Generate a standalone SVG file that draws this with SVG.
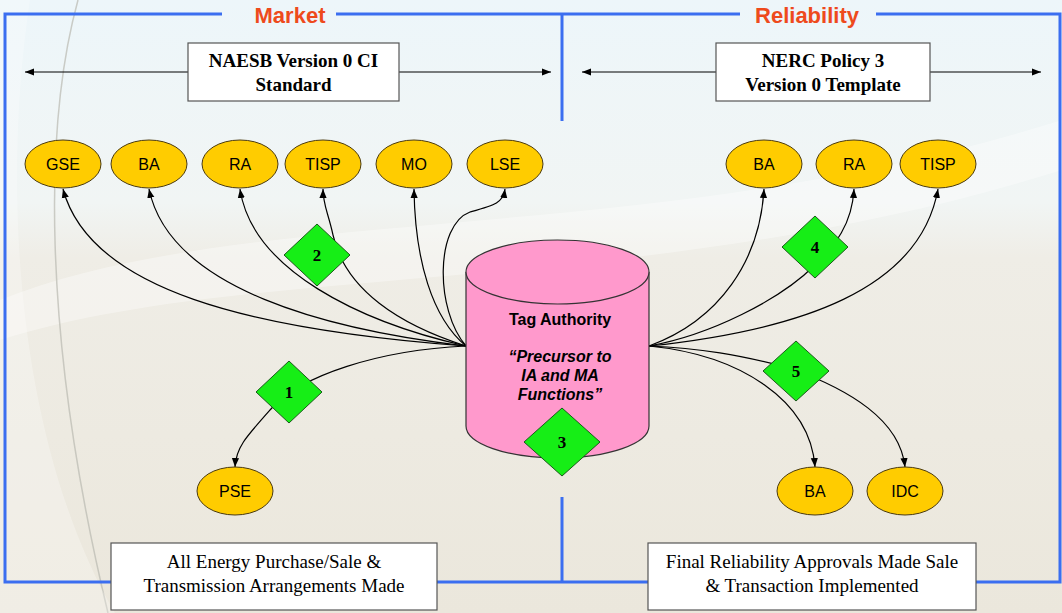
<svg xmlns="http://www.w3.org/2000/svg" width="1062" height="613" viewBox="0 0 1062 613">
<defs>
<linearGradient id="bg" x1="0" y1="0" x2="0" y2="1">
<stop offset="0" stop-color="#edf6fa"/>
<stop offset="0.33" stop-color="#f1f5f4"/>
<stop offset="0.42" stop-color="#efede6"/>
<stop offset="1" stop-color="#ebe7dc"/>
</linearGradient>
<marker id="ah" viewBox="0 0 10 10" refX="10" refY="5" markerWidth="9" markerHeight="9" markerUnits="userSpaceOnUse" orient="auto-start-reverse">
<path d="M0,1 L10,5 L0,9 z" fill="#000"/>
</marker>
<style>
.frame{stroke:#3b6ef0;stroke-width:3;fill:none}
.sec{font-family:"Liberation Sans",Arial,sans-serif;font-weight:bold;font-size:22px;fill:#ee4a1c;text-anchor:middle}
.box{fill:#fff;stroke:#555;stroke-width:1.2}
.std{font-family:"Liberation Serif","Times New Roman",serif;font-weight:bold;font-size:19px;fill:#000;text-anchor:middle}
.note{font-family:"Liberation Serif","Times New Roman",serif;font-size:19px;fill:#000;text-anchor:middle}
.ent{fill:#ffcc00;stroke:#4a3a10;stroke-width:1}
.lbl{font-family:"Liberation Sans",Arial,sans-serif;font-size:16px;fill:#000;text-anchor:middle}
.dia{fill:#16ee16;stroke:#1b5a1b;stroke-width:1}
.num{font-family:"Liberation Serif","Times New Roman",serif;font-weight:bold;font-size:17px;fill:#000;text-anchor:middle}
.conn{fill:none;stroke:#000;stroke-width:1.2;marker-end:url(#ah)}
.hl{fill:none;stroke:#000;stroke-width:1.2;marker-start:url(#ah);marker-end:url(#ah)}
.cyl{fill:#ff99cc;stroke:#333;stroke-width:1.2}
.tag{font-family:"Liberation Sans",Arial,sans-serif;font-weight:bold;font-size:16px;fill:#000;text-anchor:middle}
</style>
</defs>
<g id="background">
<rect x="0" y="0" width="1062" height="613" fill="url(#bg)"/>
<path d="M0,300 C250,200 650,250 1062,120 L1062,170 C650,300 250,260 0,340 z" fill="#ffffff" opacity="0.35"/>
<path d="M78,0 C45,120 40,330 108,613" fill="none" stroke="#b9b9b0" stroke-width="1.5" opacity="0.7"/>
<path d="M30,0 C0,200 20,450 115,613 L0,613 L0,0 z" fill="#ffffff" opacity="0.25"/>
</g>
<g id="frame">
<path class="frame" d="M222,14 L5,14 L5,582 L111,582"/>
<path class="frame" d="M336,14 L740,14"/>
<path class="frame" d="M876,14 L1060,14 L1060,582 L976,582"/>
<path class="frame" d="M437,582 L648,582"/>
<path class="frame" d="M562,14 L562,121"/>
<path class="frame" d="M562,497 L562,582"/>
<text class="sec" x="290" y="23">Market</text>
<text class="sec" x="807" y="23">Reliability</text>
</g>
<g id="standard-lines">
<path class="hl" d="M25,72 L551,72"/>
<path class="hl" d="M582,72 L1041,72"/>
</g>
<g id="naesb">
<rect class="box" x="188" y="43" width="211" height="58"/>
<text class="std" x="293.5" y="67">NAESB Version 0 CI</text>
<text class="std" x="293.5" y="91">Standard</text>
</g>
<g id="nerc">
<rect class="box" x="716" y="43" width="214" height="58"/>
<text class="std" x="823" y="67">NERC Policy 3</text>
<text class="std" x="823" y="91">Version 0 Template</text>
</g>
<g id="connectors">
<path class="conn" d="M466,346 C250,330 90,290 63,189"/>
<path class="conn" d="M466,346 C330,330 170,290 149,189"/>
<path class="conn" d="M466,346 C360,322 252,270 240,189"/>
<path class="conn" d="M466,346 C400,325 345,290 333,235 C328,212 323,205 323,189"/>
<path class="conn" d="M466,346 C432,318 415,260 414,189"/>
<path class="conn" d="M466,346 C435,310 435,225 470,212 C495,205 503,203 505,189"/>
<path class="conn" d="M466,346 C380,350 300,375 270,410 C245,438 236,448 235,467"/>
<path class="conn" d="M649,346 C720,320 760,260 764,189"/>
<path class="conn" d="M649,346 C710,335 780,300 815,265 C835,245 852,225 854,189"/>
<path class="conn" d="M649,346 C800,330 920,290 938,189"/>
<path class="conn" d="M649,346 C740,355 810,400 815,467"/>
<path class="conn" d="M649,346 C700,348 740,355 790,368 C850,390 900,420 905,467"/>
</g>
<g id="tag-authority">
<path class="cyl" d="M466,272 L466,426 A91.5,32 0 0 0 649,426 L649,272 A91.5,32 0 0 0 466,272 z"/>
<path class="cyl" d="M466,272 A91.5,32 0 0 0 649,272"/>
<text class="tag" x="560" y="325">Tag Authority</text>
<text class="tag" x="560" y="362" font-style="italic">“Precursor to</text>
<text class="tag" x="560" y="381" font-style="italic">IA and MA</text>
<text class="tag" x="560" y="400" font-style="italic">Functions”</text>
</g>
<g id="m-gse"><ellipse class="ent" cx="63" cy="164" rx="38" ry="24"/><text class="lbl" x="63" y="170">GSE</text></g>
<g id="m-ba"><ellipse class="ent" cx="149" cy="164" rx="38" ry="24"/><text class="lbl" x="149" y="170">BA</text></g>
<g id="m-ra"><ellipse class="ent" cx="240" cy="164" rx="38" ry="24"/><text class="lbl" x="240" y="170">RA</text></g>
<g id="m-tisp"><ellipse class="ent" cx="323" cy="164" rx="38" ry="24"/><text class="lbl" x="323" y="170">TISP</text></g>
<g id="m-mo"><ellipse class="ent" cx="414" cy="164" rx="38" ry="24"/><text class="lbl" x="414" y="170">MO</text></g>
<g id="m-lse"><ellipse class="ent" cx="505" cy="164" rx="38" ry="24"/><text class="lbl" x="505" y="170">LSE</text></g>
<g id="r-ba"><ellipse class="ent" cx="764" cy="164" rx="38" ry="24"/><text class="lbl" x="764" y="170">BA</text></g>
<g id="r-ra"><ellipse class="ent" cx="854" cy="164" rx="38" ry="24"/><text class="lbl" x="854" y="170">RA</text></g>
<g id="r-tisp"><ellipse class="ent" cx="938" cy="164" rx="38" ry="24"/><text class="lbl" x="938" y="170">TISP</text></g>
<g id="m-pse"><ellipse class="ent" cx="235" cy="491" rx="38" ry="24"/><text class="lbl" x="235" y="497">PSE</text></g>
<g id="r-ba2"><ellipse class="ent" cx="815" cy="491" rx="38" ry="24"/><text class="lbl" x="815" y="497">BA</text></g>
<g id="r-idc"><ellipse class="ent" cx="905" cy="491" rx="38" ry="24"/><text class="lbl" x="905" y="497">IDC</text></g>
<g id="step1"><path class="dia" d="M289,361 L322,392 L289,423 L256,392 z"/><text class="num" x="289" y="398">1</text></g>
<g id="step2"><path class="dia" d="M317,224 L350,255 L317,286 L284,255 z"/><text class="num" x="317" y="261">2</text></g>
<g id="step3"><path class="dia" d="M562,408 L600,442 L562,476 L524,442 z"/><text class="num" x="562" y="448">3</text></g>
<g id="step4"><path class="dia" d="M815,216 L848,247 L815,278 L782,247 z"/><text class="num" x="815" y="253">4</text></g>
<g id="step5"><path class="dia" d="M796,341 L829,371 L796,401 L763,371 z"/><text class="num" x="796" y="377">5</text></g>
<g id="market-result">
<rect class="box" x="111" y="543" width="326" height="67"/>
<text class="note" x="274" y="568">All Energy Purchase/Sale &amp;</text>
<text class="note" x="274" y="592">Transmission Arrangements Made</text>
</g>
<g id="reliability-result">
<rect class="box" x="648" y="543" width="328" height="67"/>
<text class="note" x="812" y="568">Final Reliability Approvals Made Sale</text>
<text class="note" x="812" y="592">&amp; Transaction Implemented</text>
</g>
</svg>
